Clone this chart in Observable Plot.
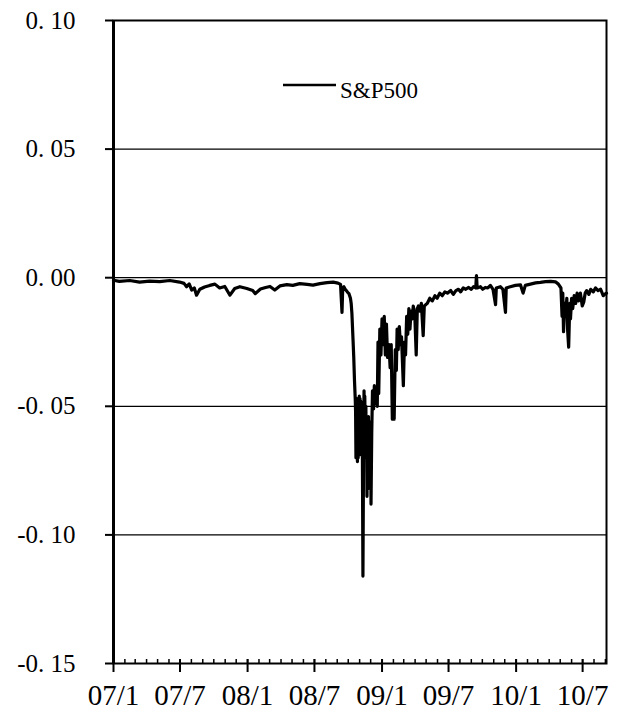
<!DOCTYPE html>
<html><head><meta charset="utf-8">
<script src="https://cdn.jsdelivr.net/npm/d3@7"></script>
<script src="https://cdn.jsdelivr.net/npm/@observablehq/plot@0.6"></script>
<style>
body{margin:0;background:#fff;}
#wrap{position:relative;width:621px;height:720px;}
#legline{position:absolute;left:283px;top:83px;}
#legtext{position:absolute;left:340px;top:79px;font-family:"Liberation Serif";font-size:23px;line-height:1;color:#000;}
</style></head><body>
<div id="wrap">
<svg id="legline" width="53" height="4"><line x1="0" x2="53" y1="2" y2="2" stroke="#000" stroke-width="2.5"/></svg>
<div id="legtext">S&amp;P500</div>
</div>
<script>
const seriesName = "S&P500";
const dates = [
"2007-01-01","2007-01-17","2007-02-14","2007-03-13","2007-04-09","2007-05-07","2007-06-03","2007-06-30",
"2007-07-12","2007-07-19","2007-07-26","2007-08-02","2007-08-09","2007-08-15","2007-08-24","2007-09-06",
"2007-09-20","2007-10-04","2007-10-17","2007-10-31","2007-11-14","2007-11-27","2007-12-11","2007-12-30",
"2008-01-15","2008-01-22","2008-02-05","2008-02-19","2008-03-02","2008-03-15","2008-03-29","2008-04-17",
"2008-05-03","2008-05-22","2008-06-11","2008-06-27","2008-07-16","2008-08-04","2008-08-21","2008-09-03",
"2008-09-10","2008-09-14","2008-09-16","2008-09-19","2008-09-23","2008-09-26","2008-09-30","2008-10-03",
"2008-10-07","2008-10-09","2008-10-11","2008-10-14","2008-10-16","2008-10-18","2008-10-20","2008-10-21","2008-10-22",
"2008-10-23","2008-10-24","2008-10-25","2008-10-26","2008-10-27","2008-10-28","2008-10-29","2008-10-30","2008-10-31","2008-11-01","2008-11-02","2008-11-03","2008-11-04",
"2008-11-05","2008-11-06","2008-11-07","2008-11-08","2008-11-10","2008-11-12","2008-11-13","2008-11-14","2008-11-15","2008-11-17","2008-11-18","2008-11-19",
"2008-11-20","2008-11-21","2008-11-23","2008-11-24","2008-11-25","2008-11-26","2008-11-28","2008-11-30","2008-12-01","2008-12-02","2008-12-04","2008-12-06",
"2008-12-09","2008-12-11","2008-12-14","2008-12-17","2008-12-19","2008-12-21","2008-12-23","2008-12-26",
"2008-12-29","2009-01-01","2009-01-05","2009-01-07","2009-01-10","2009-01-13","2009-01-16","2009-01-20",
"2009-01-23","2009-01-26","2009-01-29","2009-01-31","2009-02-03","2009-02-06","2009-02-09","2009-02-11",
"2009-02-14","2009-02-17","2009-02-20","2009-02-23","2009-02-28","2009-03-03","2009-03-06","2009-03-09",
"2009-03-12","2009-03-15","2009-03-18","2009-03-21","2009-03-24","2009-03-27","2009-03-31","2009-04-04",
"2009-04-07","2009-04-10","2009-04-14","2009-04-18","2009-04-23","2009-04-26","2009-05-04","2009-05-11",
"2009-05-18","2009-05-25","2009-05-31","2009-06-07","2009-06-14","2009-06-21","2009-06-28","2009-07-07",
"2009-07-14","2009-07-21","2009-07-28","2009-08-03","2009-08-10","2009-08-17","2009-08-24","2009-09-01",
"2009-09-07","2009-09-13","2009-09-15","2009-09-17","2009-09-26","2009-10-02","2009-10-09","2009-10-16",
"2009-10-23","2009-10-30","2009-11-06","2009-11-08","2009-11-19","2009-11-26","2009-12-03","2009-12-05",
"2009-12-16","2009-12-30","2010-01-13","2010-01-20","2010-01-26","2010-02-09","2010-02-23","2010-03-08",
"2010-03-22","2010-04-05","2010-04-18","2010-04-26","2010-05-03","2010-05-06","2010-05-08","2010-05-10",
"2010-05-13","2010-05-16","2010-05-19","2010-05-21","2010-05-24","2010-05-27","2010-05-29","2010-06-01",
"2010-06-04","2010-06-08","2010-06-12","2010-06-16","2010-06-20","2010-06-25","2010-06-30","2010-07-04",
"2010-07-08","2010-07-12","2010-07-18","2010-07-23","2010-07-30","2010-08-05","2010-08-12","2010-08-19",
"2010-08-26","2010-08-30","2010-09-04"
];
const values = [
-0.0010,-0.0014,-0.0011,-0.0017,-0.0013,-0.0015,-0.0011,-0.0017,
-0.0022,-0.0035,-0.0024,-0.0048,-0.0040,-0.0068,-0.0045,-0.0036,
-0.0030,-0.0025,-0.0040,-0.0034,-0.0068,-0.0042,-0.0035,-0.0042,
-0.0050,-0.0062,-0.0044,-0.0038,-0.0034,-0.0048,-0.0032,-0.0027,
-0.0030,-0.0023,-0.0026,-0.0029,-0.0023,-0.0019,-0.0017,-0.0021,
-0.0026,-0.0135,-0.0038,-0.0035,-0.0046,-0.0050,-0.0058,-0.0062,
-0.0080,-0.0100,-0.0140,-0.0240,-0.0310,-0.0400,-0.0470,-0.0520,-0.0700,
-0.0500,-0.0690,-0.0470,-0.0715,-0.0520,-0.0700,-0.0480,-0.0690,-0.0460,-0.0680,-0.0470,-0.0660,-0.0480,
-0.0650,-0.0500,-0.0690,-0.0520,-0.1160,-0.0600,-0.0440,-0.0640,-0.0460,-0.0680,-0.0500,-0.0700,
-0.0540,-0.0850,-0.0560,-0.0820,-0.0540,-0.0700,-0.0560,-0.0780,-0.0560,-0.0880,-0.0600,-0.0440,
-0.0510,-0.0420,-0.0490,-0.0430,-0.0500,-0.0250,-0.0450,-0.0200,
-0.0300,-0.0160,-0.0260,-0.0150,-0.0300,-0.0180,-0.0310,-0.0260,
-0.0350,-0.0260,-0.0550,-0.0400,-0.0550,-0.0280,-0.0360,-0.0200,
-0.0280,-0.0190,-0.0260,-0.0230,-0.0420,-0.0250,-0.0300,-0.0150,
-0.0220,-0.0120,-0.0200,-0.0130,-0.0160,-0.0110,-0.0140,-0.0300,
-0.0120,-0.0110,-0.0130,-0.0100,-0.0225,-0.0110,-0.0100,-0.0080,
-0.0090,-0.0070,-0.0080,-0.0060,-0.0070,-0.0055,-0.0060,-0.0050,
-0.0065,-0.0050,-0.0045,-0.0055,-0.0040,-0.0045,-0.0038,-0.0045,
-0.0035,-0.0040,0.0008,-0.0040,-0.0035,-0.0045,-0.0038,-0.0040,
-0.0030,-0.0045,-0.0105,-0.0040,-0.0035,-0.0045,-0.0135,-0.0040,
-0.0035,-0.0030,-0.0028,-0.0060,-0.0030,-0.0025,-0.0020,-0.0018,
-0.0015,-0.0014,-0.0016,-0.0025,-0.0040,-0.0150,-0.0060,-0.0210,
-0.0100,-0.0140,-0.0080,-0.0200,-0.0270,-0.0100,-0.0160,-0.0080,
-0.0120,-0.0070,-0.0100,-0.0060,-0.0090,-0.0060,-0.0110,-0.0095,
-0.0060,-0.0050,-0.0065,-0.0045,-0.0055,-0.0040,-0.0050,-0.0045,
-0.0070,-0.0065,-0.0060
];
const yTicks = [0.10, 0.05, 0.00, -0.05, -0.10, -0.15];
const gridLines = [0.05, 0.00, -0.05, -0.10];
const xDomain = ["2007-01-01", "2010-09-04"];
const majorTicks = ["2007-01-01","2007-07-01","2008-01-01","2008-07-01","2009-01-01","2009-07-01","2010-01-01","2010-07-01"];
const xTickLabels = ["07/1","07/7","08/1","08/7","09/1","09/7","10/1","10/7"];

const parse = d3.utcParse("%Y-%m-%d");
const data = dates.map((d, i) => ({date: parse(d), value: values[i], series: seriesName}));
const majorDates = majorTicks.map(parse);
const minorDates = d3.utcMonth.range(parse(xDomain[0]), parse(xDomain[1]));
const labelOf = new Map(majorDates.map((d, i) => [+d, xTickLabels[i]]));
const yFmt = d => (d < 0 ? "-" : "") + Math.abs(d).toFixed(2).replace(".", ". ");

const chart = Plot.plot({
  width: 621, height: 720,
  marginLeft: 113, marginRight: 15, marginTop: 20, marginBottom: 57,
  style: {fontFamily: "Liberation Serif", fontSize: "25px", color: "#000", background: "#fff", overflow: "visible"},
  x: {type: "utc", domain: xDomain.map(parse)},
  y: {domain: [-0.15, 0.10]},
  marks: [
    Plot.ruleY(gridLines, {stroke: "#000", strokeWidth: 1.2}),
    Plot.line(data, {x: "date", y: "value", stroke: "#000", strokeWidth: 3.2, strokeLinejoin: "round"}),
    Plot.axisY(yTicks, {tickSize: 8, tickPadding: 30, tickFormat: yFmt, strokeWidth: 2, label: null}),
    Plot.axisX(minorDates, {tickSize: 4, dy: -4, tickFormat: () => "", strokeWidth: 1.5, label: null}),
    Plot.axisX(majorDates, {tickSize: 13, dy: -4, tickFormat: () => "", strokeWidth: 2, label: null}),
    Plot.text(majorDates, {x: d => d, text: d => labelOf.get(+d), frameAnchor: "bottom", lineAnchor: "top", dy: 21, fontSize: 29, fill: "#000"}),
    Plot.ruleX([parse(xDomain[0])], {stroke: "#000", strokeWidth: 3}),
    Plot.frame({stroke: "#000", strokeWidth: 2})
  ]
});
document.getElementById("wrap").prepend(chart);
</script>
</body></html>
